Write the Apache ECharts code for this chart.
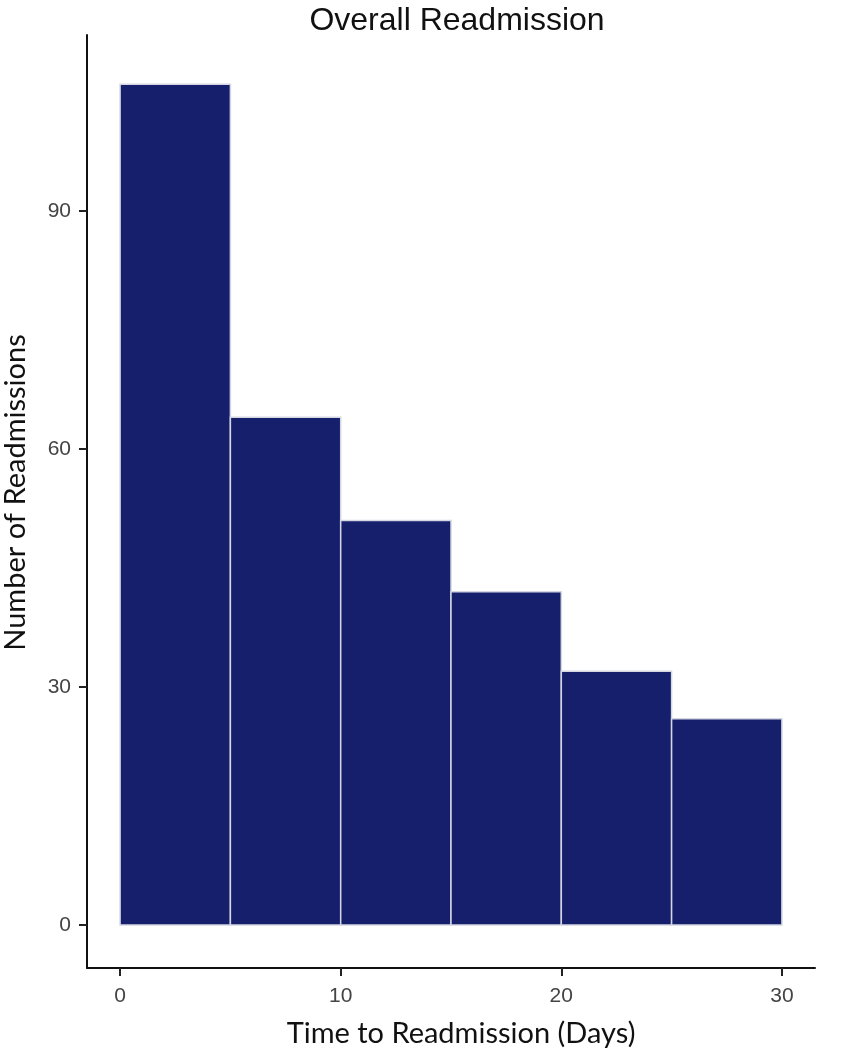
<!DOCTYPE html>
<html>
<head>
<meta charset="utf-8">
<title>Overall Readmission</title>
<script src="https://cdn.jsdelivr.net/npm/echarts@6/dist/echarts.min.js"></script>
<style>
  html, body { margin: 0; padding: 0; background: #fff; }
  #chart { width: 843px; height: 1050px; }
</style>
</head>
<body>
<div id="chart"></div>
<script>
// histogram bins (days) and counts
var binStart = [0, 5, 10, 15, 20, 25];
var binEnd   = [5, 10, 15, 20, 25, 30];
var counts   = [106, 64, 51, 42, 32, 26];
var xTicks = [0, 10, 20, 30];
var yTicks = [0, 30, 60, 90];

var data = [];
for (var i = 0; i < counts.length; i++) {
  data.push([binStart[i], binEnd[i], counts[i]]);
}

var myChart = echarts.init(document.getElementById('chart'));

var option = {
  backgroundColor: '#fff',
  animation: false,
  title: {
    text: 'Overall Readmission',
    left: 452,
    textAlign: 'center',
    top: 0,
    textStyle: {
      fontFamily: 'Liberation Sans, Arial, sans-serif',
      fontWeight: 'normal',
      fontSize: 32,
      color: '#111'
    }
  },
  grid: { left: 87, right: 28, top: 35, bottom: 82, outerBoundsMode: 'none', containLabel: false },
  xAxis: {
    type: 'value',
    min: -1.5,
    max: 31.5,
    name: 'Time to Readmission (Days)',
    nameLocation: 'middle',
    nameGap: 51,
    nameTextStyle: { fontFamily: 'Lato, sans-serif', fontSize: 29, color: '#111', padding: [0, 0, 0, 20] },
    axisLine: { show: true, onZero: false, lineStyle: { color: '#111', width: 2 } },
    axisTick: { show: true, length: 8, customValues: xTicks, lineStyle: { color: '#222', width: 2 } },
    axisLabel: {
      customValues: xTicks,
      margin: 18,
      fontFamily: 'Liberation Sans, Arial, sans-serif',
      fontSize: 21,
      color: '#444'
    },
    splitLine: { show: false }
  },
  yAxis: {
    type: 'value',
    min: -5.42,
    max: 112.2,
    name: 'Number of Readmissions',
    nameLocation: 'middle',
    nameGap: 57,
    nameTextStyle: { fontFamily: 'Lato, sans-serif', fontSize: 29, color: '#111', padding: [0, 0, 0, 18] },
    axisLine: { show: true, onZero: false, lineStyle: { color: '#111', width: 2 } },
    axisTick: { show: true, length: 8, customValues: yTicks, lineStyle: { color: '#222', width: 2 } },
    axisLabel: {
      customValues: yTicks,
      margin: 16,
      fontFamily: 'Liberation Sans, Arial, sans-serif',
      fontSize: 21,
      color: '#444'
    },
    splitLine: { show: false }
  },
  series: [{
    type: 'custom',
    renderItem: function (params, api) {
      var p0 = api.coord([api.value(0), api.value(2)]);
      var p1 = api.coord([api.value(1), 0]);
      return {
        type: 'rect',
        shape: { x: p0[0], y: p0[1], width: p1[0] - p0[0], height: p1[1] - p0[1] },
        style: { fill: '#151f6c', stroke: '#d4d6e2', lineWidth: 1.5 }
      };
    },
    encode: { x: [0, 1], y: 2 },
    data: data
  }]
};

myChart.setOption(option);
</script>
</body>
</html>
